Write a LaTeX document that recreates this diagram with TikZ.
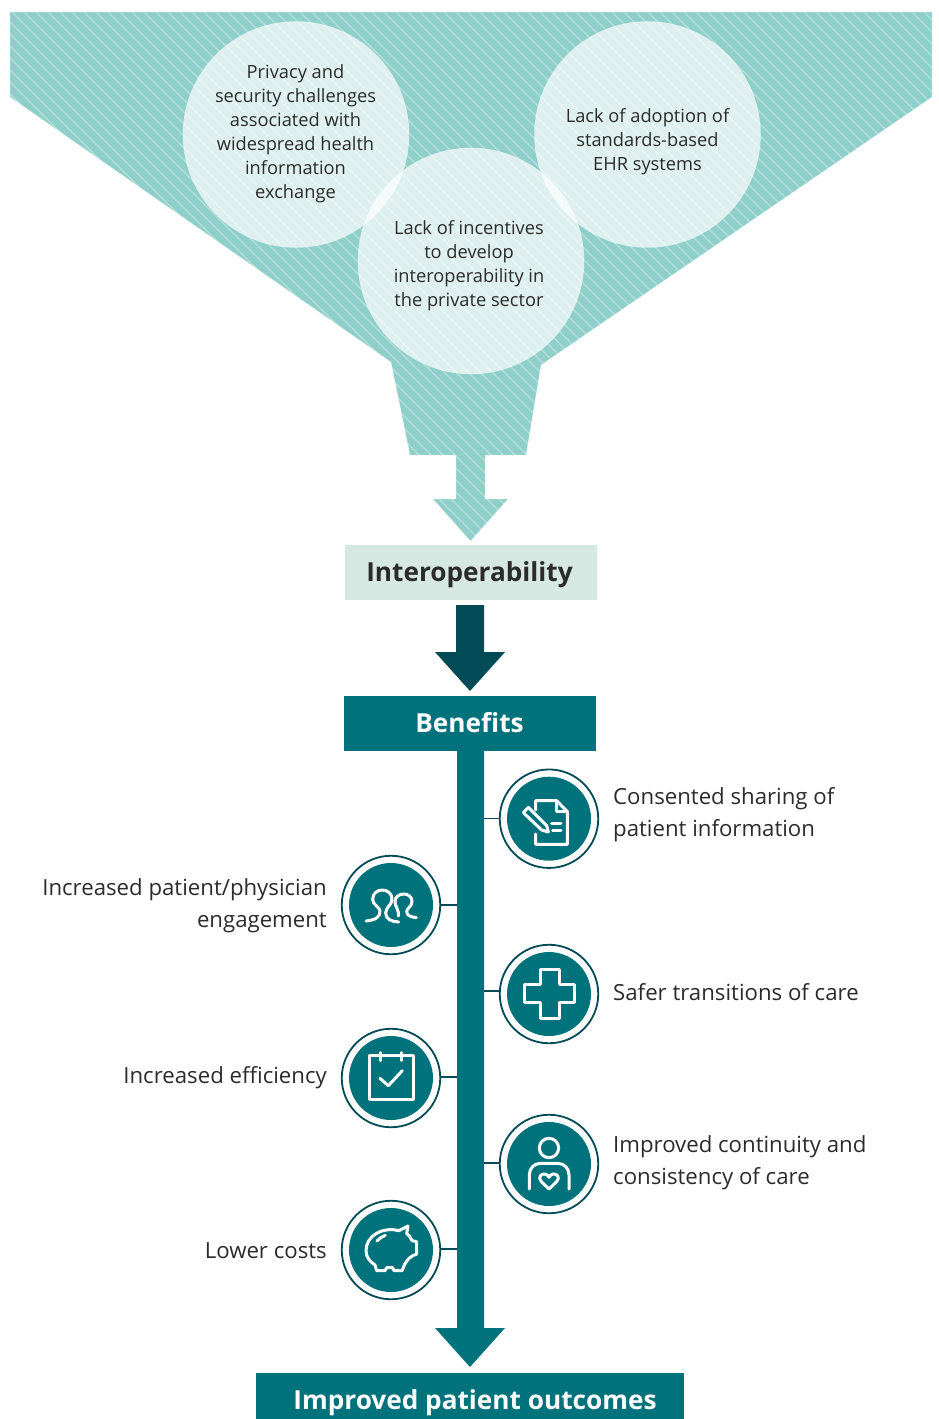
\documentclass[tikz,border=0pt]{standalone}
\usepackage{fontspec}
\setmainfont{Open Sans}
\definecolor{teal1}{HTML}{00727B}
\definecolor{dark1}{HTML}{004B55}
\definecolor{funnelc}{HTML}{8FCFCA}
\definecolor{paleb}{HTML}{D5E9E2}
\definecolor{ink}{HTML}{2B2B2B}
\tikzset{
  blob/.style={circle,draw=none,fill=white,fill opacity=.7,minimum size=226.5pt,inner sep=0pt},
  blobtext/.style={align=center,text=ink,font=\fontsize{18.25}{24}\selectfont,inner sep=0pt},
  sidetext/.style={align=left,anchor=west,text=ink,font=\fontsize{22.2}{32}\selectfont,inner sep=0pt},
  sidetextl/.style={align=right,anchor=east,text=ink,font=\fontsize{22.2}{32}\selectfont,inner sep=0pt},
  ring/.style={circle,draw=dark1,line width=1.8pt,fill=white,minimum size=98.5pt,inner sep=0pt},
  disc/.style={circle,fill=teal1,minimum size=84pt,inner sep=0pt},
  link/.style={draw=dark1,line width=1.6pt},
  icon/.style={draw=white,line width=3pt,line join=round,line cap=round},
  headbox/.style={rectangle,inner sep=0pt,font=\bfseries\fontsize{26.2}{32}\selectfont}
}
\begin{document}
\begin{tikzpicture}[x=1pt,y=-1pt]
\useasboundingbox (0,0) rectangle (938,1419);
% funnel
\def\funnelpath{(10,12) -- (932,12) -- (932,97) -- (541,365) -- (526,455) -- (485,455) -- (485,499) -- (508,499) -- (470.5,541) -- (433,499) -- (456,499) -- (456,455) -- (410,455) -- (391,362) -- (10,97) -- cycle}
\fill[funnelc] \funnelpath;
\begin{scope}
  \clip \funnelpath;
  \foreach \s in {-600,-588,...,1000}
    \draw[white,opacity=.35,line width=1.2pt] (\s,0) -- (\s+560,560);
\end{scope}
\draw[white,opacity=.25,line width=.8pt] \funnelpath;
\node[blob] (b1) at (296,134.5) {};
\node[blob] (b2) at (647.5,134.5) {};
\node[blob] (b3) at (471,261) {};
\node[blobtext] (t1) at (295.5,134) {Privacy and\\security challenges\\associated with\\widespread health\\information\\exchange};
\node[blobtext] (t2) at (647.5,142) {Lack of adoption of\\standards-based\\EHR systems};
\node[blobtext] (t3) at (469,266) {Lack of incentives\\to develop\\interoperability in\\the private sector};
% interoperability
\node[rectangle,fill=paleb,minimum width=252pt,minimum height=55pt] (inter) at (471,572.5) {};
\node[headbox,text=ink] (intert) at (469.5,574.5) {Interoperability};
\fill[dark1] (456,605) -- (484,605) -- (484,652) -- (505,652) -- (470,691) -- (435,652) -- (456,652) -- cycle;
% benefits
\node[rectangle,fill=teal1,minimum width=252pt,minimum height=55pt] (ben) at (470,723.5) {};
\node[headbox,text=white] (bent) at (469.5,723) {Benefits};
\fill[teal1] (457,751) -- (484,751) -- (484,1328) -- (505,1328) -- (470,1367) -- (435,1328) -- (457,1328) -- cycle;
\node[rectangle,fill=teal1,minimum width=428pt,minimum height=46pt] (out) at (470,1396) {};
\node[headbox,text=white] (outt) at (475,1403) {Improved patient outcomes};
% circles
\node[ring] (c1) at (549,818.7) {};
\node[ring] (c2) at (391,905) {};
\node[ring] (c3) at (549,994) {};
\node[ring] (c4) at (391,1078) {};
\node[ring] (c5) at (549,1164) {};
\node[ring] (c6) at (391,1250) {};
\node[disc] at (c1) {};
\node[disc] at (c2) {};
\node[disc] at (c3) {};
\node[disc] at (c4) {};
\node[disc] at (c5) {};
\node[disc] at (c6) {};
% connectors
\coordinate (j1) at (484,818.5);
\coordinate (j2) at (457,905);
\coordinate (j3) at (484,991);
\coordinate (j4) at (457,1077);
\coordinate (j5) at (484,1163);
\coordinate (j6) at (457,1249);
\draw[link] (j1) -- (j1 -| c1.west);
\draw[link] (j2) -- (j2 -| c2.east);
\draw[link] (j3) -- (j3 -| c3.west);
\draw[link] (j4) -- (j4 -| c4.east);
\draw[link] (j5) -- (j5 -| c5.west);
\draw[link] (j6) -- (j6 -| c6.east);
% labels
\node[sidetext] (l1) at (613,814.5) {Consented sharing of\\patient information};
\node[sidetextl] (l2) at (327,905.5) {Increased patient/physician\\engagement};
\node[sidetext] (l3) at (613,992) {Safer transitions of care};
\node[sidetextl] (l4) at (327,1078) {Increased efficiency};
\node[sidetext] (l5) at (613,1162.5) {Improved continuity and\\consistency of care};
\node[sidetextl] (l6) at (327,1250.5) {Lower costs};
% icons, upper column
\begin{scope}[shift={(330,760)},scale=1/3]
  % document
  \draw[icon] (617,150) -- (617,122) -- (680,122) -- (712,155) -- (712,253) -- (617,253) -- (617,222);
  \draw[icon] (680,124) -- (680,155) -- (710,155);
  \draw[icon] (595,142) -- (580,158) -- (635,210) -- (655,216) -- (650,197) -- cycle;
  \draw[icon] (665,190) -- (693,190);
  \draw[icon] (668,212) -- (693,212);
  % two people
  \draw[icon] (108,483) .. controls (135,480) and (152,472) .. (150,452) .. controls (148,440) and (128,435) .. (128,418) .. controls (128,400) and (142,390) .. (157,390) .. controls (172,390) and (186,400) .. (186,418) .. controls (186,435) and (168,440) .. (167,458) .. controls (166,478) and (185,485) .. (206,486);
  \draw[icon] (205,468) .. controls (208,450) and (195,440) .. (195,425) .. controls (195,410) and (208,402) .. (221,402) .. controls (234,402) and (246,410) .. (246,425) .. controls (246,440) and (229,445) .. (230,456) .. controls (231,468) and (245,471) .. (259,473);
  % cross
  \draw[icon] (630,628) -- (687,628) -- (687,674) -- (733,674) -- (733,728) -- (687,728) -- (687,775) -- (630,775) -- (630,728) -- (582,728) -- (582,674) -- (630,674) -- cycle;
\end{scope}
% icons, lower column
\begin{scope}[shift={(330,1020)},scale=1/3]
  % calendar
  \draw[icon,line cap=butt] (118,107) rectangle (250,238);
  \draw[icon] (152,98) -- (152,122);
  \draw[icon] (215,98) -- (215,122);
  \draw[icon] (150,175) -- (175,197) -- (217,152);
  % person
  \draw[icon] (657,384) circle (29);
  \draw[icon] (598,507) -- (598,465) .. controls (598,445) and (612,430) .. (632,430) -- (683,430) .. controls (703,430) and (717,445) .. (717,465) -- (717,507);
  \draw[icon] (657,507) -- (634,485) .. controls (622,472) and (634,460) .. (645,462) .. controls (651,463) and (655,468) .. (657,472) .. controls (659,468) and (663,463) .. (669,462) .. controls (680,460) and (692,472) .. (680,485) -- cycle;
  % piggy bank
  \draw[icon] (234,618) -- (207,632) .. controls (185,626) and (160,628) .. (140,640) .. controls (118,652) and (108,672) .. (108,692) .. controls (108,712) and (120,725) .. (135,735) -- (140,752) -- (165,752) -- (170,743) -- (188,743) -- (192,752) -- (216,752) -- (224,733) .. controls (232,718) and (242,708) .. (260,702) -- (260,665) -- (246,662) .. controls (242,652) and (236,645) .. (230,640) -- cycle;
  \draw[icon] (141,663) .. controls (148,655) and (156,650) .. (166,646);
\end{scope}
\end{tikzpicture}
\end{document}
